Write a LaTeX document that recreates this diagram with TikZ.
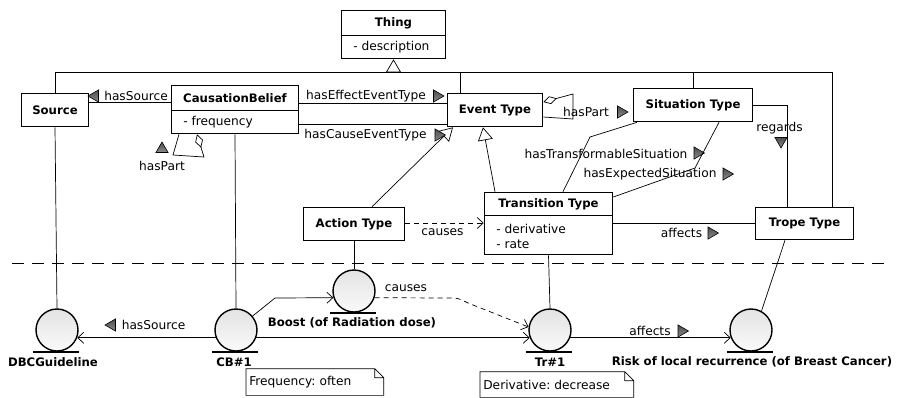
\documentclass[tikz,border=0pt]{standalone}
\usepackage{fontspec}
\setmainfont{DejaVu Sans}
\frenchspacing
\usetikzlibrary{arrows.meta, shapes.geometric, calc}

\begin{document}
\begin{tikzpicture}[
  x=1pt, y=-1pt,
  line width=0.7pt,
% 1. Class boxes with a heavy frame
  cls/.style={
    draw,
    rectangle,
    fill=white,
    line width=1.6pt,
    inner sep=0pt,
    font=\fontsize{11.7}{14}\selectfont\bfseries
  },
  clsname/.style={inner sep=0pt, font=\fontsize{11.7}{14}\selectfont\bfseries},
  attr/.style={inner sep=0pt, anchor=west, font=\fontsize{12.2}{14}\selectfont},
  lbl/.style={inner sep=0pt, font=\fontsize{12.2}{14}\selectfont},
% 2. Instances: shaded circles, name below
  obj/.style={
    circle,
    draw,
    line width=1.4pt,
    minimum size=42pt,
    inner sep=0pt,
    top color=gray!22,
    bottom color=gray!4
  },
  objname/.style={inner sep=0pt, font=\fontsize{11.7}{14}\selectfont\bfseries},
% 3. Reading direction of a relation
  dirmark/.style={
    regular polygon,
    regular polygon sides=3,
    draw,
    line width=0.6pt,
    top color=black!70,
    bottom color=black!45,
    inner sep=0pt,
    minimum size=14pt
  },
% 4. Line ends
  nav/.style={-{Straight Barb[length=6pt,width=11pt]}},
  gen/.style={-{Triangle[open,length=13pt,width=15pt]}},
  agg/.style={{Diamond[open,length=14pt,width=8pt]}-},
  dep/.style={dash pattern=on 5pt off 4pt},
  notebox/.style={
    inner sep=3pt,
    anchor=west,
    text width=131pt,
    align=left,
    minimum height=26pt,
    font=\fontsize{12.2}{14}\selectfont
  }
]
  \useasboundingbox (0,0) rectangle (897,397);

  % Classes
  \node[cls, minimum width=104pt, minimum height=48pt] (thing) at (393.5,34.5) {};
  \node[clsname] (thingname) at (393.5,23) {Thing};
  \node[attr] (thingattr) at (353,47.5) {- description};
  \draw (thing.west |- 0,35) -- (thing.east |- 0,35);

  \node[cls, minimum width=67pt, minimum height=33pt] (source) at (55,110) {Source};

  \node[cls, minimum width=127pt, minimum height=48pt] (cb) at (235,109.5) {};
  \node[clsname] (cbname) at (235,98) {CausationBelief};
  \node[attr] (cbattr) at (183,122.5) {- frequency};
  \draw (cb.west |- 0,110) -- (cb.east |- 0,110);

  \node[cls, minimum width=95pt, minimum height=33pt] (event) at (495,110) {Event Type};
  \node[cls, minimum width=119pt, minimum height=33pt] (situation) at (693,105) {Situation Type};
  \node[cls, minimum width=101pt, minimum height=33pt] (action) at (354,224) {Action Type};

  \node[cls, minimum width=128pt, minimum height=62pt] (transition) at (548.5,223.5) {};
  \node[clsname] (transname) at (548.5,204.5) {Transition Type};
  \node[attr] (transattr1) at (496,229) {- derivative};
  \node[attr] (transattr2) at (496,244) {- rate};
  \draw (transition.west |- 0,215) -- (transition.east |- 0,215);

  \node[cls, minimum width=98pt, minimum height=32pt] (trope) at (804.5,223.5) {Trope Type};

  % Everything is a Thing
  \coordinate (bus) at (393.5,72);
  \draw[gen] (bus) -- (thing.south);
  \draw (source.north) |- (bus);
  \draw (460,0 |- event.north) |- (bus);
  \draw (situation.north) |- (bus);
  \draw (832,0 |- trope.north) |- (bus);

  \draw[gen] (372,0 |- action.north) -- (453,0 |- event.south);
  \draw[gen] (495,0 |- transition.north) -- (483,0 |- event.south);

  % Relations between the classes
  \draw (cb.west |- 0,102) -- (source.east |- 0,102);
  \node[lbl] (hassrc) at (136,96) {hasSource};
  \node[dirmark, rotate=90] (hassrcm) at (95,96) {};

  \draw (cb.east |- 0,103) -- (event.west |- 0,103);
  \node[lbl] (haseff) at (366,96) {hasEffectEventType};
  \node[dirmark, rotate=-90] (haseffm) at (437,96) {};

  \draw (cb.east |- 0,124) -- (event.west |- 0,124);
  \node[lbl] (hascause) at (365.5,135) {hasCauseEventType};
  \node[dirmark, rotate=-90] (hascausem) at (438.5,135) {};

  \draw[agg] (197,0 |- cb.south) -- (204,157) -- (173,155) -- (179,0 |- cb.south);
  \node[lbl] (cbpart) at (162,166) {hasPart};
  \node[dirmark] (cbpartm) at (162,149) {};

  \draw[agg] (event.east |- 0,102) -- (573,94) -- (573,119) -- (event.east |- 0,117);
  \node[lbl] (evpart) at (586,112) {hasPart};
  \node[dirmark, rotate=-90] (evpartm) at (621,112) {};

  \draw (situation.east |- 0,105) -| (787,0 |- trope.north);
  \node[lbl] (regards) at (779.5,128) {regards};
  \node[dirmark, rotate=180] (regardsm) at (781,141) {};

  \draw (563,0 |- transition.north) -- (590,137) -- (637,0 |- situation.south);
  \node[lbl] (hastrans) at (606,154) {hasTransformableSituation};
  \node[dirmark, rotate=-90] (hastransm) at (697.5,153) {};

  \draw (transition.east |- 0,197) -- (695,168) -- (719,0 |- situation.south);
  \node[lbl] (hasexp) at (650,174) {hasExpectedSituation};
  \node[dirmark, rotate=-90] (hasexpm) at (726.5,174) {};

  \draw (transition.east |- 0,223) -- (trope.west |- 0,223);
  \node[lbl] (affects) at (681.5,233) {affects};
  \node[dirmark, rotate=-90] (affectsm) at (711.5,233) {};

  \draw[dep, nav] (action.east |- 0,223) -- (transition.west |- 0,223);
  \node[lbl] (causes) at (442.5,232) {causes};

  % Model level / instance level
  \draw[line width=1pt, dash pattern=on 12pt off 8pt] (12,263) -- (884,263);

  % Instances
  \node[obj] (dbc) at (57,330) {};
  \node[obj] (cbone) at (236,330) {};
  \node[obj] (boost) at (354,291) {};
  \node[obj] (trone) at (550,330) {};
  \node[obj] (risk) at (751,330) {};
  \foreach \o in {dbc,cbone,boost,trone,risk}
    \draw[line width=1.6pt] ([xshift=-24pt]\o.south) -- ([xshift=22pt]\o.south);

  \node[objname] (dbcname) at (53,362) {DBCGuideline};
  \node[objname] (cbonename) at (234,362) {CB\#1};
  \node[objname] (boostname) at (352,323) {Boost (of Radiation dose)};
  \node[objname] (tronename) at (550,362) {Tr\#1};
  \node[objname] (riskname) at (752,362) {Risk of local recurrence (of Breast Cancer)};

  % instance of
  \draw (source.south) -- (dbc.north);
  \draw (cb.south) -- (cbone.north);
  \draw (action.south) -- (boost.north);
  \draw (transition.south) -- (trone.north);
  \draw (785,0 |- trope.south) -- (risk.61);

  % Links between the instances
  \draw[nav] (cbone.201) -- (dbc.-21);
  \node[lbl] (lhassrc) at (153.5,325) {hasSource};
  \node[dirmark, rotate=90] (lhassrcm) at (112,325) {};

  \draw[nav] (cbone.40) -- (275,298) -- (boost.198);
  \draw[nav] (cbone.-21) -- (trone.201);

  \draw[dep, nav] (boost.-18) -- (448,298) .. controls (458,298) .. (468,303) -- (trone.172);
  \node[lbl] (lcauses) at (406,288) {causes};

  \draw[nav] (trone.-21) -- (risk.201);
  \node[lbl] (laffects) at (650,331) {affects};
  \node[dirmark, rotate=-90] (laffectsm) at (681.5,331) {};

  % Notes
  \node[notebox] (freqnote) at (246,382) {Frequency: often};
  \node[notebox, text width=147pt, minimum height=25pt] (dernote) at (480,384.5) {Derivative: decrease};
  \foreach \n in {freqnote,dernote}
    \draw (\n.south west) -- (\n.north west) -- ([xshift=-9pt]\n.north east)
      -- ([yshift=-9pt]\n.north east) -- (\n.south east) -- cycle
      ([xshift=-9pt]\n.north east) |- ([yshift=-9pt]\n.north east);
\end{tikzpicture}
\end{document}
